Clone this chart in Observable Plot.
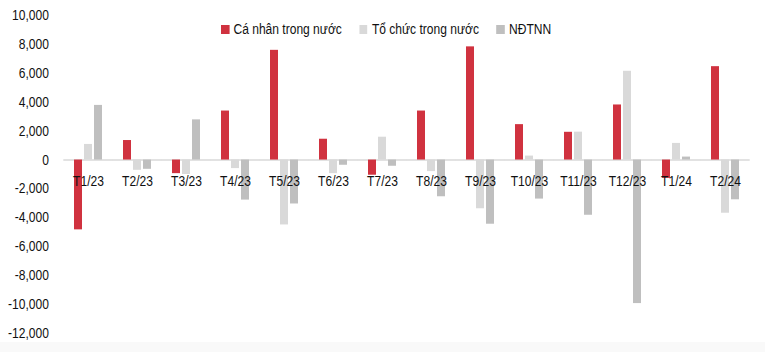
<!DOCTYPE html>
<html><head><meta charset="utf-8">
<script src="https://cdn.jsdelivr.net/npm/d3@7"></script>
<script src="https://cdn.jsdelivr.net/npm/@observablehq/plot@0.6"></script>
<style>
body{margin:0;background:#f9f9f9;}
#wrap{position:relative;width:765px;height:342px;background:#fff;}
.legend{position:absolute;top:21px;left:221px;display:flex;align-items:center;font-family:"Liberation Sans",Arial,sans-serif;font-size:14px;color:#111;white-space:nowrap;transform:scaleX(0.86);transform-origin:0 0;}
.item{display:flex;align-items:center;margin-right:20.5px;}
.sw{width:9.5px;height:9px;margin-right:5px;display:inline-block;}
</style>
</head><body>
<div id="wrap"><div class="legend" id="legend"></div></div>
<script>
const months = ["T1/23","T2/23","T3/23","T4/23","T5/23","T6/23","T7/23","T8/23","T9/23","T10/23","T11/23","T12/23","T1/24","T2/24"];
const series = ["Cá nhân trong nước","Tổ chức trong nước","NĐTNN"];
const colors = ["#d0323f","#d9d9d9","#bfbfbf"];
const caNhan = [-4830, 1350, -940, 3390, 7590, 1440, -1050, 3390, 7830, 2450, 1920, 3810, -1270, 6460];
const toChuc = [1080, -710, -1000, -590, -4490, -940, 1580, -800, -3370, 275, 1930, 6140, 1150, -3680];
const ndtnn = [3780, -640, 2780, -2770, -3040, -360, -430, -2540, -4440, -2700, -3820, -9930, 205, -2750];
const yTicks = [-12000,-10000,-8000,-6000,-4000,-2000,0,2000,4000,6000,8000,10000];

const seriesValues = [caNhan, toChuc, ndtnn];
const rows = months.flatMap((m, i) => series.map((s, j) => ({month: m, series: s, value: seriesValues[j][i]})));
const fmt = d3.formatLocale({decimal: ".", thousands: ",", grouping: [3], currency: ["$", ""], minus: "-"}).format(",");
const font = '"Liberation Sans",Arial,sans-serif';

const chart = Plot.plot({
  width: 765, height: 342,
  marginTop: 15, marginBottom: 9, marginLeft: 62, marginRight: 14,
  style: {fontFamily: font, fontSize: "14px", color: "#111", background: "transparent"},
  fx: {domain: months, paddingInner: 0.39, paddingOuter: 0.195, axis: null, label: null},
  x: {domain: series, paddingInner: 0.24, paddingOuter: 0, axis: null},
  y: {domain: [-12000, 10000], axis: null},
  color: {domain: series, range: colors},
  marks: [
    Plot.axisY({ticks: yTicks, tickSize: 0, tickPadding: 3, dx: -21.6, tickFormat: fmt, label: null, fontSize: 14, fill: "#111"}),
    Plot.ruleY([0], {stroke: "#d9d9d9", strokeWidth: 1.5, insetLeft: -9.7, insetRight: -9.7}),
    Plot.barY(rows, {fx: "month", x: "series", y: "value", fill: "series"}),
    Plot.text(months, {fx: d => d, y: 0, dy: 21, text: d => d, fontSize: 14, fill: "#111"})
  ]
});
document.getElementById("wrap").prepend(chart);

// narrow the glyphs to mimic the condensed typeface of the original
chart.querySelectorAll("text").forEach(t => {
  const w = t.getComputedTextLength();
  if (w > 0) {
    t.setAttribute("textLength", (w * 0.86).toFixed(2));
    t.setAttribute("lengthAdjust", "spacingAndGlyphs");
  }
});

const legend = document.getElementById("legend");
series.forEach((s, i) => {
  const it = document.createElement("div");
  it.className = "item";
  it.innerHTML = `<span class="sw" style="background:${colors[i]}"></span><span>${s}</span>`;
  legend.appendChild(it);
});
</script>
</body></html>
